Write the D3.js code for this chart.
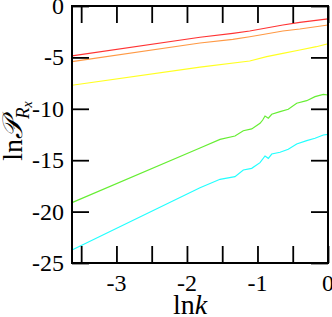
<!DOCTYPE html>
<meta charset="UTF-8">
<html>
<head>
<style>
  body { margin: 0; background: #fff; }
  svg { display: block; }
</style>
</head>
<body>
<svg width="332" height="317" font-family="'Liberation Serif', 'DejaVu Serif', serif"></svg>
<script src="https://d3js.org/d3.v7.min.js"></script>
<script>

// values: [ln k, ln P]
var redLine = [[-3.63, -4.86], [-1.815, -3.04], [-1.35, -2.66], [-1.11, -2.43], [-0.64, -1.85], [-0.40, -1.59], [0, -1.26]];
var orangeLine = [[-3.63, -5.42], [-1.815, -3.60], [-1.35, -3.24], [-1.11, -2.99], [-0.964, -2.82], [-0.64, -2.43], [-0.40, -2.24], [0, -1.85]];
var yellowLine = [[-3.63, -7.71], [-1.815, -5.95], [-1.11, -5.35], [-0.87, -4.93], [-0.64, -4.60], [-0.40, -4.28], [-0.165, -3.96], [0, -3.67]];
var greenLine = [[-3.63, -19.13], [-1.815, -13.81], [-1.531, -12.97], [-1.319, -12.65], [-1.201, -12.13], [-1.082, -11.96],
  [-0.964, -11.41], [-0.926, -11.09], [-0.893, -10.70], [-0.846, -10.92], [-0.798, -10.53], [-0.68, -10.28],
  [-0.563, -10.05], [-0.444, -9.46], [-0.302, -9.21], [-0.184, -8.82], [-0.066, -8.59], [0, -8.66]];
var cyanLine = [[-3.63, -23.74], [-1.815, -17.68], [-1.531, -16.86], [-1.319, -16.60], [-1.201, -15.95], [-1.082, -15.79],
  [-0.964, -15.24], [-0.893, -14.59], [-0.846, -14.82], [-0.798, -14.40], [-0.68, -14.23],
  [-0.563, -13.94], [-0.444, -13.42], [-0.302, -13.10], [-0.184, -12.87], [-0.066, -12.55], [0, -12.48]];

var xTicks = [-3.5, -3, -2.5, -2, -1.5, -1, -0.5, 0];
var xLabels = [-3, -2, -1, 0];
var yTicks = [-25, -20, -15, -10, -5, 0];

var series = [
  {data: cyanLine, color: "#22ffff"},
  {data: greenLine, color: "#66ee33"},
  {data: yellowLine, color: "#ffff22"},
  {data: orangeLine, color: "#ff9944"},
  {data: redLine, color: "#ff3333"}
];

var svg = d3.select("svg");
var mLeft = 72, mRight = 328, mTop = 6, mBottom = 263;

var x = d3.scaleLinear().domain([-3.63, 0]).range([mLeft, mRight]);
var y = d3.scaleLinear().domain([-25, 0]).range([mBottom, mTop]);

// curves
var line = d3.line()
  .x(function(d) { return x(d[0]); })
  .y(function(d) { return y(d[1]); });

svg.append("g").selectAll("path")
  .data(series)
  .enter().append("path")
    .attr("d", function(d) { return line(d.data); })
    .attr("fill", "none")
    .attr("stroke", function(d) { return d.color; })
    .attr("stroke-width", 1.2);

// axes, ticks pointing inward
var tickLen = 17;
function axis(gen, tx, ty) {
  var g = svg.append("g")
    .attr("transform", "translate(" + tx + "," + ty + ")")
    .call(gen);
  g.select(".domain").remove();
  g.selectAll(".tick line").attr("stroke", "#000").attr("stroke-width", 1.8);
  return g;
}

axis(d3.axisBottom(x).tickValues(xTicks).tickSize(-tickLen).tickFormat(""), 0, mBottom);
axis(d3.axisTop(x).tickValues(xTicks).tickSize(-tickLen).tickFormat(""), 0, mTop);
axis(d3.axisLeft(y).tickValues(yTicks).tickSize(-tickLen).tickFormat(""), mLeft, 0);
axis(d3.axisRight(y).tickValues(yTicks).tickSize(-tickLen).tickFormat(""), mRight, 0);

// frame
svg.append("rect")
  .attr("x", mLeft).attr("y", mTop)
  .attr("width", mRight - mLeft).attr("height", mBottom - mTop)
  .attr("fill", "none").attr("stroke", "#000").attr("stroke-width", 2);

// tick labels
svg.append("g").selectAll("text")
  .data(xLabels)
  .enter().append("text")
    .attr("x", function(d) { return x(d); })
    .attr("y", 291)
    .attr("text-anchor", "middle")
    .attr("font-size", 24)
    .text(function(d) { return d; });

svg.append("g").selectAll("text")
  .data(yTicks)
  .enter().append("text")
    .attr("x", 64)
    .attr("y", function(d) { return y(d) + 8; })
    .attr("text-anchor", "end")
    .attr("font-size", 24)
    .text(function(d) { return d; });

// axis titles
var xt = svg.append("text")
  .attr("x", 190).attr("y", 314)
  .attr("text-anchor", "middle")
  .attr("font-size", 28);
xt.append("tspan").text("ln");
xt.append("tspan").attr("font-style", "italic").text("k");

var yt = svg.append("text")
  .attr("transform", "translate(22,131) rotate(-90)")
  .attr("text-anchor", "middle")
  .attr("font-size", 28);
yt.append("tspan").text("ln");
yt.append("tspan").attr("font-style", "italic").text("\u{1D4AB}");
yt.append("tspan").attr("font-style", "italic").attr("font-size", 19).attr("dy", 7).text("R");
yt.append("tspan").attr("font-style", "italic").attr("font-size", 14).attr("dy", 3).text("x");

</script>
</body>
</html>
